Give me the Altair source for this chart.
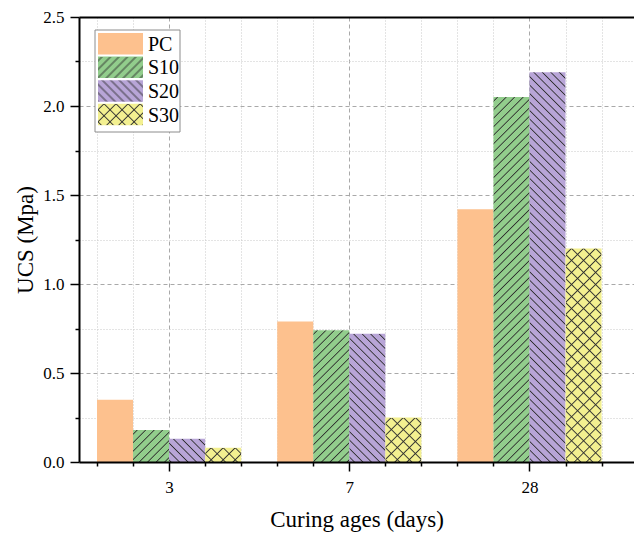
import json
from urllib.parse import quote

import altair as alt
import pandas as pd

# ---------------- data ----------------
categories = ["3", "7", "28"]
series = ["PC", "S10", "S20", "S30"]
pc_vals = [0.35, 0.79, 1.42]
s10_vals = [0.18, 0.74, 2.05]
s20_vals = [0.13, 0.72, 2.19]
s30_vals = [0.08, 0.25, 1.20]
y_major = [0.0, 0.5, 1.0, 1.5, 2.0, 2.5]
y_minor = [0.25, 0.75, 1.25, 1.75, 2.25]

colors = ["#FDC18E", "#92CD8C", "#B8A5D7", "#F3F090"]
hatched = ["S10", "S20", "S30"]

values = {"PC": pc_vals, "S10": s10_vals, "S20": s20_vals, "S30": s30_vals}
rows = []
for ci, c in enumerate(categories):
    for si, s in enumerate(series):
        rows.append({"cat": c, "ci": ci, "series": s, "si": si, "value": values[s][ci]})
df = pd.DataFrame(rows)

stride = len(series) + 1
x_major = [ci * stride + len(series) / 2 for ci in range(len(categories))]
x_minor = [k for k in range(len(categories) * stride) if (k % stride) <= len(series) and k not in x_major]
X_RIGHT = 14.9

label_expr = "''"
for xm, c in reversed(list(zip(x_major, categories))):
    label_expr = f"datum.value == {xm} ? {json.dumps(c)} : {label_expr}"


# ---------------- hatch patterns (SVG images) ----------------
def hatch_svg(kind):
    if kind == "fwd":
        s, rot, d = 6.0, 45, "M3,-1 V7"
    elif kind == "back":
        s, rot, d = 6.0, -45, "M3,-1 V7"
    else:
        s, rot, d = 8.5, 45, "M4.25,-1 V9.5 M-1,4.25 H9.5"
    svg = (
        "<svg xmlns='http://www.w3.org/2000/svg' width='100%' height='100%'>"
        f"<defs><pattern id='h' width='{s}' height='{s}' patternUnits='userSpaceOnUse' "
        f"patternTransform='rotate({rot})'>"
        f"<path d='{d}' stroke='#2e2e2e' stroke-width='0.9' fill='none'/></pattern></defs>"
        "<rect width='100%' height='100%' fill='url(#h)'/></svg>"
    )
    return "data:image/svg+xml;charset=utf-8," + quote(svg, safe="")


hatch_urls = {"S10": hatch_svg("fwd"), "S20": hatch_svg("back"), "S30": hatch_svg("cross")}
url_expr = "''"
for s in reversed(hatched):
    url_expr = f"datum.series === {json.dumps(s)} ? {json.dumps(hatch_urls[s])} : {url_expr}"

# ---------------- scales ----------------
xs = alt.Scale(domain=[-0.5, X_RIGHT], nice=False, zero=False)
ys = alt.Scale(domain=[0, 2.5], nice=False, zero=True)
cs = alt.Scale(domain=series, range=colors)

base = alt.Chart(df).transform_calculate(
    pos=f"datum.ci * {stride} + datum.si",
    pos2=f"datum.ci * {stride} + datum.si + 1",
)

grid_only = dict(domain=False, ticks=False, labels=False, title=None, grid=True)
MAJ_GRID = dict(gridDash=[4, 3], gridColor="#a9a9a9", gridWidth=1)
MIN_GRID = dict(gridDash=[1, 2], gridColor="#c9c9c9", gridWidth=1)

minor_grid = base.mark_point(opacity=0, size=0).encode(
    x=alt.X("pos:Q", scale=xs, axis=alt.Axis(orient="bottom", values=x_minor, **MIN_GRID, **grid_only)),
    y=alt.Y("value:Q", scale=ys, axis=alt.Axis(orient="left", values=y_minor, **MIN_GRID, **grid_only)),
)

bars = base.mark_bar().encode(
    x=alt.X("pos:Q", scale=xs, axis=alt.Axis(orient="bottom", values=x_major, **MAJ_GRID, **grid_only)),
    x2="pos2:Q",
    y=alt.Y("value:Q", scale=ys, axis=alt.Axis(orient="left", values=y_major[1:-1], **MAJ_GRID, **grid_only)),
    y2=alt.datum(0),
    color=alt.Color("series:N", scale=cs, legend=None),
)

hatch = (
    base.transform_filter(alt.FieldOneOfPredicate(field="series", oneOf=hatched))
    .transform_calculate(url=url_expr)
    .mark_image(aspect=False)
    .encode(
        x=alt.X("pos:Q", scale=xs, axis=None),
        x2="pos2:Q",
        y=alt.Y("value:Q", scale=ys, axis=None),
        y2=alt.datum(0),
        url="url:N",
    )
)

main_axes = base.mark_point(opacity=0, size=0).encode(
    x=alt.X(
        "pos:Q",
        scale=xs,
        axis=alt.Axis(
            orient="bottom", values=x_major, labelExpr=label_expr, title="Curing ages (days)",
            grid=False, tickSize=9, labelPadding=8, titlePadding=13, zindex=1,
        ),
    ),
    y=alt.Y(
        "value:Q",
        scale=ys,
        axis=alt.Axis(
            orient="left", values=y_major, format=".1f", title="UCS (Mpa)",
            grid=False, tickSize=9, labelPadding=6, titlePadding=5, zindex=1,
        ),
    ),
)

minor_ticks = base.mark_point(opacity=0, size=0).encode(
    x=alt.X("pos:Q", scale=xs, axis=alt.Axis(orient="bottom", values=x_minor, labels=False, domain=False,
                                             grid=False, title=None, tickSize=4, zindex=1)),
    y=alt.Y("value:Q", scale=ys, axis=alt.Axis(orient="left", values=y_minor, labels=False, domain=False,
                                               grid=False, title=None, tickSize=4, zindex=1)),
)

top_frame = base.mark_point(opacity=0, size=0).encode(
    x=alt.X("pos:Q", scale=xs, axis=alt.Axis(orient="top", labels=False, ticks=False, grid=False, title=None,
                                             domain=True, domainWidth=2, domainColor="black", zindex=1)),
)

# ---------------- legend (drawn inside the plot) ----------------
leg = pd.DataFrame({"series": series, "li": list(range(len(series)))})
L_TOP, L_PITCH, L_H = 16, 23.6, 21.5
legend_base = alt.Chart(leg).transform_calculate(
    ly=f"{L_TOP} + datum.li * {L_PITCH}",
    ly2=f"{L_TOP} + datum.li * {L_PITCH} + {L_H}",
    lm=f"{L_TOP} + datum.li * {L_PITCH} + {L_H / 2} + 1",
)

legend_box = alt.Chart(pd.DataFrame({"k": [0]})).mark_rect(
    fill="white", stroke="#8c8c8c", strokeWidth=1
).encode(x=alt.value(16), x2=alt.value(101), y=alt.value(13), y2=alt.value(115))

legend_sw = legend_base.mark_rect().encode(
    x=alt.value(19), x2=alt.value(64),
    y=alt.Y("ly:Q", scale=None, axis=None), y2="ly2:Q",
    color=alt.Color("series:N", scale=cs, legend=None),
)

legend_hatch = (
    legend_base.transform_filter(alt.FieldOneOfPredicate(field="series", oneOf=hatched))
    .transform_calculate(url=url_expr)
    .mark_image(aspect=False)
    .encode(x=alt.value(19), x2=alt.value(64), y=alt.Y("ly:Q", scale=None, axis=None), y2="ly2:Q", url="url:N")
)

legend_text = legend_base.mark_text(
    align="left", baseline="middle", font="Liberation Serif", fontSize=20, color="black"
).encode(x=alt.value(69), y=alt.Y("lm:Q", scale=None, axis=None), text="series:N")

chart = (
    alt.layer(minor_grid, bars, hatch, main_axes, minor_ticks, top_frame,
              legend_box, legend_sw, legend_hatch, legend_text)
    .resolve_axis(x="independent", y="independent")
    .properties(
        width=555, height=445,
        padding={"left": 79, "top": 17, "right": 0, "bottom": 73},
        autosize=alt.AutoSizeParams(type="none"),
        background="white",
    )
    .configure_view(stroke=None)
    .configure_axis(
        labelFont="Liberation Serif", titleFont="Liberation Serif",
        labelFontSize=17, titleFontSize=23, titleFontWeight="normal",
        labelColor="black", titleColor="black",
        tickColor="black", tickWidth=1.5, domainColor="black", domainWidth=2,
    )
)

chart.save("out.html", embed_options={"renderer": "svg", "actions": False})
